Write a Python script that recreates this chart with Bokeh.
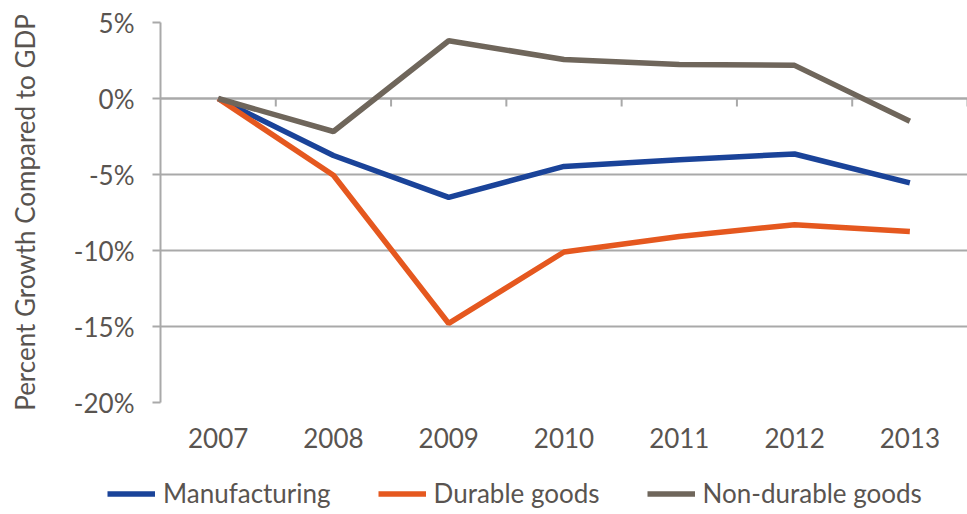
from bokeh.plotting import figure
from bokeh.models import Range1d, FixedTicker, Legend, LegendItem
from bokeh.embed import file_html
from bokeh.resources import INLINE

years = ["2007", "2008", "2009", "2010", "2011", "2012", "2013"]
manufacturing = [0.0, -3.75, -6.5, -4.47, -4.03, -3.65, -5.55]
durable = [0.0, -5.05, -14.8, -10.1, -9.08, -8.3, -8.75]
non_durable = [0.0, -2.17, 3.8, 2.57, 2.24, 2.18, -1.5]
series_names = ["Manufacturing", "Durable goods", "Non-durable goods"]
y_ticks = [5, 0, -5, -10, -15, -20]

COLORS = ["#1a4399", "#e5581f", "#6f665b"]
FONT = "Lato"
TXT = "#595450"
GRID = "#a9a9a9"

xc = [i + 0.5 for i in range(len(years))]
bounds = list(range(1, len(years) + 1))

p = figure(frame_width=807, frame_height=380, output_backend="svg", toolbar_location=None,
           x_range=Range1d(0, len(years)), y_range=Range1d(min(y_ticks), max(y_ticks)),
           min_border_left=160, min_border_right=0, min_border_top=22, min_border_bottom=0)
p.outline_line_color = None
p.background_fill_color = "white"
p.border_fill_color = "white"

# grid
p.xgrid.grid_line_color = None
p.ygrid.ticker = FixedTicker(ticks=y_ticks)
p.ygrid.grid_line_color = GRID
p.ygrid.grid_line_width = 2

# y axis
p.yaxis.ticker = FixedTicker(ticks=y_ticks)
p.yaxis.major_label_overrides = {t: f"{t}%" for t in y_ticks}
p.yaxis.axis_line_color = GRID
p.yaxis.axis_line_width = 2
p.yaxis.major_tick_line_color = GRID
p.yaxis.major_tick_line_width = 2
p.yaxis.major_tick_out = 8
p.yaxis.major_tick_in = 0
p.yaxis.minor_tick_line_color = None
p.yaxis.major_label_text_font = FONT
p.yaxis.major_label_text_font_size = "26px"
p.yaxis.major_label_text_color = TXT
p.yaxis.major_label_standoff = 18
p.yaxis.axis_label = "Percent Growth Compared to GDP"
p.yaxis.axis_label_text_font = FONT
p.yaxis.axis_label_text_font_size = "26px"
p.yaxis.axis_label_text_font_style = "normal"
p.yaxis.axis_label_text_color = TXT
p.yaxis.axis_label_standoff = 30

# x axis (labels only, at category centres)
p.xaxis.ticker = FixedTicker(ticks=xc)
p.xaxis.major_label_overrides = {x: y for x, y in zip(xc, years)}
p.xaxis.axis_line_color = None
p.xaxis.major_tick_line_color = None
p.xaxis.minor_tick_line_color = None
p.xaxis.major_label_text_font = FONT
p.xaxis.major_label_text_font_size = "26px"
p.xaxis.major_label_text_color = TXT
p.xaxis.major_label_standoff = 19

# zero category axis line with boundary ticks
p.segment(x0=[0], y0=[0], x1=[len(years)], y1=[0], line_color=GRID, line_width=2)
p.segment(x0=bounds, y0=[0] * len(bounds), x1=bounds, y1=[-0.53] * len(bounds),
          line_color=GRID, line_width=2)

for vals, col in zip([manufacturing, durable, non_durable], COLORS):
    p.line(xc, vals, line_color=col, line_width=5.5)

# legend strip below the chart (separate root so its frame spans the full width)
p2 = figure(width=967, height=60, output_backend="svg", toolbar_location=None,
            x_axis_type=None, y_axis_type=None, min_border=0, title=None)
p2.outline_line_color = None
p2.xgrid.visible = False
p2.ygrid.visible = False
nan = float("nan")
swatches = [p2.line(x=[nan], y=[nan], line_color=col, line_width=5.5) for col in COLORS]

legend = Legend(items=[LegendItem(label=n, renderers=[r]) for n, r in zip(series_names, swatches)],
                orientation="horizontal", location=(107, 1),
                label_text_font=FONT, label_text_font_size="26px", label_text_color=TXT,
                glyph_width=48, glyph_height=31, label_height=31, label_standoff=8, spacing=47,
                border_line_color=None, background_fill_alpha=0, padding=0, margin=0)
p2.add_layout(legend)

open("out.html", "w").write(file_html([p, p2], INLINE))
